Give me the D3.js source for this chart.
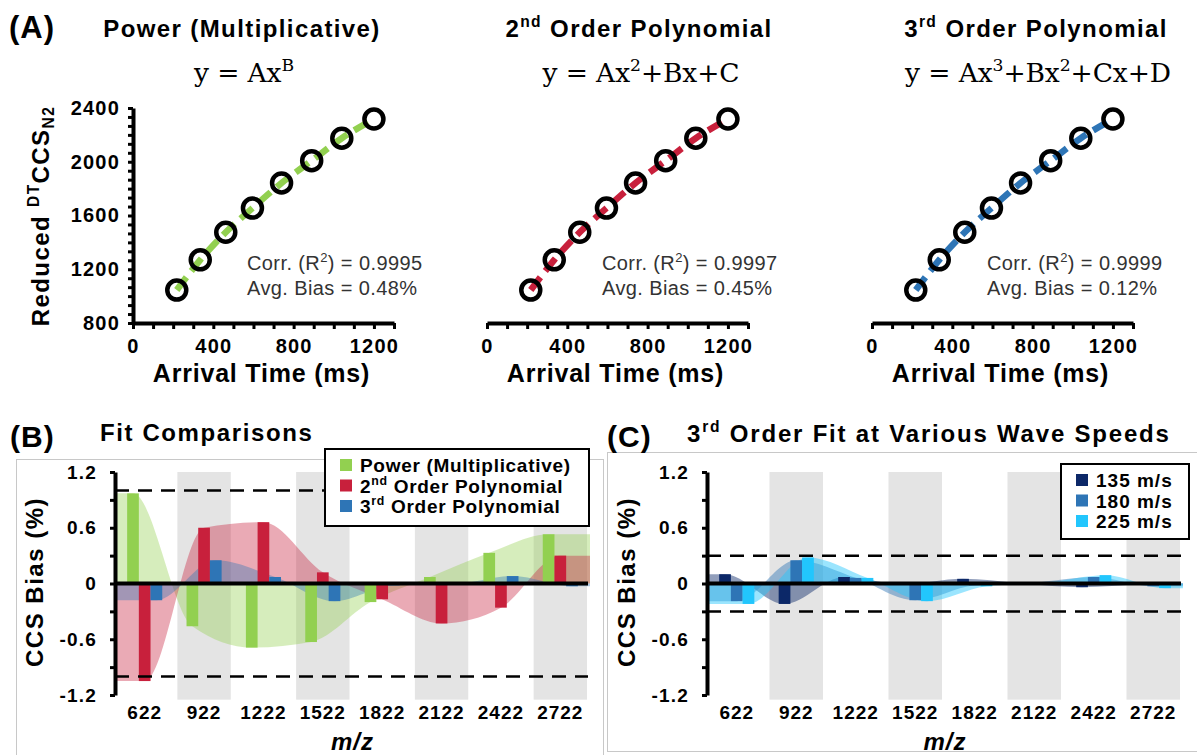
<!DOCTYPE html>
<html>
<head>
<meta charset="utf-8">
<script src="https://cdn.jsdelivr.net/npm/d3@7"></script>
<style>
body { margin: 0; background: #fff; }
text { font-family: "Liberation Sans", Arial, sans-serif; }
</style>
</head>
<body>
<svg></svg>
<script>
// calibration standards (same points in all three fits)
const arrivalTime = [218, 335, 462, 595, 740, 890, 1040, 1200];
const reducedCCS = [1045, 1270, 1475, 1655, 1842, 2008, 2175, 2318];
const fitTitles = ["Power (Multiplicative)", "2^{nd} Order Polynomial", "3^{rd} Order Polynomial"];
const fitEquations = ["y = Ax^{B}", "y = Ax^{2}+Bx+C", "y = Ax^{3}+Bx^{2}+Cx+D"];
const fitR2 = ["0.9995", "0.9997", "0.9999"];
const fitBias = ["0.48%", "0.45%", "0.12%"];
const timeTicks = [0, 400, 800, 1200];
const ccsTicks = [800, 1200, 1600, 2000, 2400];

// bias per m/z
const mzLabels = ["622", "922", "1222", "1522", "1822", "2122", "2422", "2722"];
const powerBias = [0.97, -0.46, -0.69, -0.63, -0.20, 0.07, 0.33, 0.53];
const poly2Bias = [-1.05, 0.60, 0.66, 0.12, -0.17, -0.43, -0.26, 0.30];
const poly3Bias = [-0.18, 0.25, 0.07, -0.19, -0.02, -0.01, 0.08, -0.03];

const speedLabels = ["135 m/s", "180 m/s", "225 m/s"];
const bias135 = [0.10, -0.22, 0.07, -0.01, 0.05, 0.00, -0.04, -0.01];
const bias180 = [-0.19, 0.25, 0.06, -0.18, -0.02, 0.01, 0.07, -0.03];
const bias225 = [-0.22, 0.28, 0.06, -0.19, -0.03, 0.01, 0.09, -0.05];
const biasTicks = [-1.2, -0.6, 0, 0.6, 1.2];

const fitColors = ["#92d050", "#c8203c", "#2e75b6"];
const speedColors = ["#0c2868", "#2e75b6", "#22c6fd"];

const svg = d3.select("svg").attr("width", 1197).attr("height", 755);
svg.append("rect").attr("width", 1197).attr("height", 755).attr("fill", "#fff");

// text with ^{sup} and _{sub} parts
function rich(sel, str, size) {
    let shift = 0;
    str.split(/(\^\{[^}]*\}|_\{[^}]*\})/).filter(s => s.length).forEach(s => {
        let lvl = 0, t = s;
        if (s.startsWith("^{")) { lvl = 1; t = s.slice(2, -1); }
        else if (s.startsWith("_{")) { lvl = -1; t = s.slice(2, -1); }
        const target = lvl === 1 ? -size * 0.4 : lvl === -1 ? size * 0.22 : 0;
        sel.append("tspan")
            .attr("dy", target - shift)
            .style("font-size", (lvl ? size * 0.65 : size) + "px")
            .text(t);
        shift = target;
    });
    return sel;
}

function label(x, y, str, size, opts) {
    opts = opts || {};
    const t = svg.append("text")
        .attr("x", x).attr("y", y)
        .attr("text-anchor", opts.anchor || "start")
        .attr("font-weight", opts.weight || "bold")
        .attr("letter-spacing", opts.ls || 0)
        .attr("fill", opts.fill || "#000");
    if (opts.italic) t.attr("font-style", "italic");
    if (opts.family) t.style("font-family", opts.family);
    if (opts.rotate) t.attr("transform", "rotate(-90," + x + "," + y + ")");
    return rich(t, str, size);
}

function styleAxis(g, size, ls) {
    g.attr("font-family", null).attr("font-size", null);
    g.select(".domain").attr("stroke-width", 4);
    g.selectAll(".tick line").attr("stroke-width", 3);
    g.selectAll(".tick text")
        .style("font-size", size + "px")
        .attr("font-weight", "bold")
        .attr("letter-spacing", ls)
        .attr("fill", "#000");
}

// ---------- (A) calibration fits ----------
label(9, 38, "(A)", 31, {ls: 1});

const yA = d3.scaleLinear().domain([800, 2400]).range([323, 108]);
const aLeft = [133, 487, 872];
const aTitleX = [242, 639, 1036];
const aNoteX = [247, 602, 987];
const points = d3.zip(arrivalTime, reducedCCS);

fitTitles.forEach((title, i) => {
    const x = d3.scaleLinear().domain([0, 1300]).range([aLeft[i], aLeft[i] + 261]);

    label(aTitleX[i], 37, title, 24, {anchor: "middle", ls: 1.4});
    label(aTitleX[i] + 2, 82, fitEquations[i], 26.5, {anchor: "middle", weight: "normal", family: "'DejaVu Serif', serif", ls: -0.1});

    const gx = svg.append("g")
        .attr("transform", "translate(0,323)")
        .call(d3.axisBottom(x)
            .tickValues(d3.range(0, 1301, 100))
            .tickSize(6).tickSizeOuter(0).tickPadding(10)
            .tickFormat(d => timeTicks.includes(d) ? d : ""));
    styleAxis(gx, 20, 1.2);

    label(x(650) - 2, 382, "Arrival Time (ms)", 25, {anchor: "middle", ls: 0.8});

    const line = d3.line()
        .x(d => x(d[0]))
        .y(d => yA(d[1]))
        .curve(d3.curveMonotoneX);

    svg.append("path")
        .datum(points)
        .attr("d", line)
        .attr("fill", "none")
        .attr("stroke", fitColors[i])
        .attr("stroke-width", 6.5)
        .attr("stroke-dasharray", "16,8");

    svg.append("g").selectAll("circle")
        .data(points)
        .join("circle")
        .attr("cx", d => x(d[0]))
        .attr("cy", d => yA(d[1]))
        .attr("r", 9.5)
        .attr("fill", "none")
        .attr("stroke", "#000")
        .attr("stroke-width", 4.5);

    label(aNoteX[i], 270, "Corr. (R^{2}) = " + fitR2[i], 20, {weight: "normal", ls: 0.4, fill: "#333"});
    label(aNoteX[i], 295, "Avg. Bias = " + fitBias[i], 20, {weight: "normal", ls: 0.4, fill: "#333"});
});

// y axis only on the first panel
const ccsMinor = d3.range(0, 25).map(k => 800 + k * 400 / 6);
const gyA = svg.append("g")
    .attr("transform", "translate(133,0)")
    .call(d3.axisLeft(yA)
        .tickValues(ccsMinor)
        .tickSize(5).tickSizeOuter(0).tickPadding(8)
        .tickFormat((d, k) => k % 6 === 0 ? ccsTicks[k / 6] : ""));
styleAxis(gyA, 20, 1.2);
label(49, 216, "Reduced ^{DT}CCS_{N2}", 24, {anchor: "middle", ls: 1.4, rotate: true});

// ---------- (B) and (C) bias panels ----------
svg.append("rect").attr("x", 16.5).attr("y", 459.5).attr("width", 587).attr("height", 320)
    .attr("fill", "none").attr("stroke", "#c8c8c8");
svg.append("rect").attr("x", 607.5).attr("y", 452.5).attr("width", 600).attr("height", 299)
    .attr("fill", "none").attr("stroke", "#c8c8c8");

label(10, 447, "(B)", 30, {ls: 1});
label(100, 441, "Fit Comparisons", 24, {ls: 1.6});
label(607, 447, "(C)", 30, {ls: 1});
label(687, 442, "3^{rd} Order Fit at Various Wave Speeds", 24, {ls: 1.8});

const yBias = d3.scaleLinear().domain([-1.2, 1.2]).range([695, 472]);
const biasMinor = biasTicks.flatMap((t, k) => k ? [(t + biasTicks[k - 1]) / 2, t] : [t]);
const fmtBias = d => d === 0 ? "0" : d.toFixed(1);

function biasPanel(left, right, series, colors, names, refLevel, areaOpacity, legend) {
    const x = d3.scaleBand().domain(mzLabels).range([left, right]);
    const bw = x.bandwidth() * 0.197;
    const g = svg.append("g");

    // alternating grey columns
    g.selectAll("rect.band")
        .data(mzLabels.filter((d, k) => k % 2 === 1))
        .join("rect")
        .attr("x", d => x(d) + 3)
        .attr("width", x.bandwidth() - 6)
        .attr("y", yBias(1.2))
        .attr("height", yBias(-1.25) - yBias(1.2))
        .attr("fill", "#e4e4e4");

    const barX = (k, j) => x(mzLabels[k]) + x.bandwidth() / 2 + (j - 1.5) * bw;

    // smoothed envelopes
    series.forEach((vals, j) => {
        const pts = [[left, vals[0]]]
            .concat(vals.map((v, k) => [barX(k, j) + bw / 2, v]))
            .concat([[right, vals[vals.length - 1]]]);
        g.append("path")
            .datum(pts)
            .attr("d", d3.area()
                .x(d => d[0])
                .y0(yBias(0))
                .y1(d => yBias(d[1]))
                .curve(d3.curveMonotoneX))
            .attr("fill", colors[j])
            .attr("fill-opacity", areaOpacity);
    });

    series.forEach((vals, j) => {
        g.append("g").selectAll("rect")
            .data(vals)
            .join("rect")
            .attr("x", (v, k) => barX(k, j))
            .attr("width", bw)
            .attr("y", v => yBias(Math.max(0, v)))
            .attr("height", v => Math.abs(yBias(v) - yBias(0)))
            .attr("fill", colors[j]);
    });

    [refLevel, -refLevel].forEach(v => {
        g.append("line")
            .attr("x1", left).attr("x2", right - 2)
            .attr("y1", yBias(v)).attr("y2", yBias(v))
            .attr("stroke", "#000").attr("stroke-width", 2.5)
            .attr("stroke-dasharray", "14,9");
    });

    g.append("line")
        .attr("x1", left).attr("x2", right - 2)
        .attr("y1", yBias(0)).attr("y2", yBias(0))
        .attr("stroke", "#000").attr("stroke-width", 4);

    const gy = g.append("g")
        .attr("transform", "translate(" + left + ",0)")
        .call(d3.axisLeft(yBias)
            .tickValues(biasMinor)
            .tickSize(5).tickSizeOuter(0).tickPadding(13)
            .tickFormat((d, k) => k % 2 ? "" : fmtBias(biasTicks[k / 2])));
    styleAxis(gy, 19, 1.2);

    const gx = g.append("g")
        .attr("transform", "translate(0,700)")
        .call(d3.axisBottom(x).tickSize(0).tickPadding(6));
    gx.select(".domain").remove();
    styleAxis(gx, 19, 1);

    label((left + right) / 2, 750, "m/z", 24, {anchor: "middle", italic: true, ls: 1});
    label(left - 72, 582, "CCS Bias (%)", 24, {anchor: "middle", ls: 1.5, rotate: true});

    // legend
    const lg = svg.append("g");
    lg.append("rect")
        .attr("x", legend.x).attr("y", legend.y)
        .attr("width", legend.w).attr("height", legend.h)
        .attr("fill", "#fff").attr("stroke", "#000").attr("stroke-width", 2);
    names.forEach((name, j) => {
        const by = legend.y + 23 + j * 20.5;
        lg.append("rect")
            .attr("x", legend.x + 15).attr("y", by - 13)
            .attr("width", 12).attr("height", 12)
            .attr("fill", colors[j]);
        const t = lg.append("text")
            .attr("x", legend.x + 35).attr("y", by)
            .attr("font-weight", "bold").attr("letter-spacing", legend.ls);
        rich(t, name, 19);
    });
}

biasPanel(115, 590, [powerBias, poly2Bias, poly3Bias], fitColors, fitTitles, 1.0, 0.38,
    {x: 325, y: 449, w: 264, h: 77, ls: 0.7});
biasPanel(707, 1183, [bias135, bias180, bias225], speedColors, speedLabels, 0.3, 0.45,
    {x: 1061, y: 464, w: 128, h: 75, ls: 1});
</script>
</body>
</html>
